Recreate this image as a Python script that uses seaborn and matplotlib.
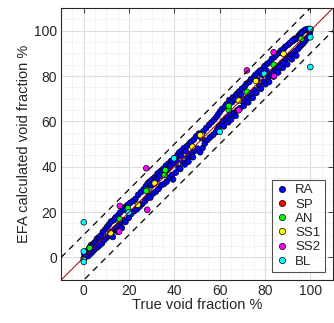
import numpy as np
import pandas as pd
import matplotlib
matplotlib.use("Agg")
import matplotlib.pyplot as plt
from matplotlib.ticker import MultipleLocator
import seaborn as sns

sns.set_theme(style="white")
plt.rcParams["font.family"] = ["Liberation Sans", "DejaVu Sans"]

categories = ["RA", "SP", "AN", "SS1", "SS2", "BL"]
colors = ["#0000ff", "#ff0000", "#00ff00", "#ffff00", "#ff00ff", "#00ffff"]

# True vs. EFA-calculated void fraction (%) per group
ra_true = [
    0, 0.3, 0.8, 1.5, 2, 2.5, 3, 3.2, 3.8, 4.2,
    4.5, 5, 5.3, 5.8, 6.2, 6.6, 7, 7.5, 8, 8.4,
    9, 9.5, 10, 10.4, 10.8, 11.2, 11.6, 12, 12.4, 12.8,
    13.2, 13.6, 14, 14.4, 14.8, 15.2, 15.6, 16, 16.4, 16.8,
    17.2, 17.6, 18, 18.4, 18.8, 19.2, 19.8, 20.4, 21, 21.6,
    22.2, 22.8, 23.4, 24, 24.6, 25.2, 25.8, 26.4, 27, 27.4,
    27.8, 28.2, 28.6, 29, 29.4, 29.8, 30.2, 30.6, 31, 31.4,
    31.8, 32.2, 32.6, 33, 33.4, 33.8, 34.2, 34.6, 35, 35.4,
    35.8, 36.2, 36.6, 37, 37.4, 37.8, 38.2, 38.6, 39, 39.4,
    39.8, 40.2, 40.6, 41, 41.4, 41.8, 42.2, 42.6, 43, 43.4,
    43.8, 44.2, 44.6, 45, 45.4, 45.8, 46.2, 46.6, 47, 47.4,
    47.8, 48.2, 48.6, 49, 49.6, 50.2, 50.8, 51.4, 52, 52.4,
    52.8, 53.4, 54, 54.6, 55.2, 55.8, 56.4, 57, 57.6, 58.2,
    58.6, 59, 59.4, 59.8, 60.2, 60.6, 61, 61.4, 61.8, 62.2,
    62.6, 63, 63.4, 63.8, 64.2, 64.6, 65, 65.4, 65.8, 66.2,
    66.6, 67, 67.4, 67.8, 68.2, 68.6, 69, 69.4, 69.8, 70.2,
    70.6, 71, 71.4, 71.8, 72.2, 72.6, 73, 73.4, 73.8, 74.2,
    74.6, 75, 75.4, 75.8, 76.2, 76.6, 77, 77.4, 77.8, 78.2,
    78.6, 79, 79.4, 79.8, 80.2, 80.6, 81, 81.4, 81.8, 82.2,
    82.6, 83, 83.4, 83.8, 84.2, 84.6, 85, 85.4, 85.8, 86.2,
    86.6, 87, 87.4, 87.8, 88.2, 88.6, 89, 89.4, 89.8, 90.2,
    90.6, 91, 91.4, 91.8, 92.2, 92.6, 93, 93.4, 93.8, 94.2,
    94.6, 95, 95.4, 95.8, 96.2, 96.6, 97, 97.4, 97.8, 98.2,
    98.6, 99, 99.4, 99.8, 100, 93.4, 92, 88, 86, 96,
]
ra_efa = [
    -0.5, 1.4, 0.2, 2.8, 0.6, 4.2, 1.6, 5.4, 2.4, 6,
    3.2, 6.8, 4, 8.2, 4.6, 8.8, 5.4, 9.6, 6.2, 11.2,
    7.6, 12.4, 8.6, 13.6, 9.4, 14.6, 10.2, 15.8, 11.4, 9,
    16.4, 12.4, 17.6, 13.2, 11.4, 18.6, 14.4, 19.8, 15.6, 13,
    20.8, 16.4, 22, 15.6, 21, 23, 17.4, 24, 19.2, 24.8,
    20.4, 25.8, 21.2, 27.6, 22.4, 28.8, 23.6, 30, 24.8, 31.4,
    26, 32.6, 27.2, 33.4, 26.4, 31.8, 34.4, 28.2, 32.6, 35.4,
    29, 34.4, 37, 30.2, 35.8, 38, 31.8, 37.2, 39, 32.4,
    37.8, 40.4, 33.4, 38.8, 41.4, 35.2, 40.4, 42.6, 36.4, 34.4,
    41.6, 43.8, 37.4, 42.6, 45.2, 39.6, 46.4, 39, 44.6, 47.2,
    41.8, 48.2, 41, 46.8, 49, 43.8, 42.2, 50.2, 44.8, 51,
    46, 44.2, 52, 47, 53.4, 48, 54.6, 46.4, 52.6, 48.2,
    55.6, 50.2, 57, 51.8, 58.4, 53, 59.6, 54, 60.8, 55.2,
    62, 56.6, 63.2, 58, 64.4, 58.8, 65.4, 60.2, 57.8, 66.4,
    61.2, 67.6, 62, 59.6, 69.4, 63.2, 60.8, 68.4, 70.6, 63.8,
    69.6, 62.4, 72, 65, 70.8, 73.2, 65.8, 71.8, 74.4, 68.8,
    66.8, 75.4, 69.8, 76.6, 70.6, 68.4, 77.4, 71.8, 78.6, 72.6,
    70.4, 79.4, 73.8, 80.6, 72.6, 78.4, 81.6, 75.8, 82.4, 74.4,
    80.6, 83, 77.6, 84.4, 76.4, 82.4, 85.4, 79.6, 77.4, 86.2,
    80.8, 87.6, 82, 79.8, 88.4, 82.8, 89.4, 84, 81.6, 90.2,
    84.8, 91.2, 85.8, 83.6, 92, 86.6, 93, 87.8, 85.2, 93.8,
    88.4, 94.6, 89.4, 87.4, 95.4, 90.2, 96.4, 91, 89, 97,
    92, 98, 93, 98.8, 93.8, 99.6, 94.6, 100.2, 95.6, 100.6,
    96.8, 100.8, 97.6, 99.2, 100.4, 96.2, 95.6, 85.6, 84, 99,
]
sp_true = []
sp_efa = []
an_true = [2.6, 15.9, 19.5, 28, 27.6, 35.7, 36, 64, 64, 72, 83.8, 96]
an_efa = [4.1, 16.9, 21.7, 29.8, 29.3, 36.3, 38.5, 65, 66.8, 73, 85, 96.4]
ss1_true = [11.8, 23.9, 31.3, 48, 52, 51.4, 68.4, 76, 88.2]
ss1_efa = [10.7, 23.2, 32.7, 48.8, 54, 53.9, 69.2, 77.8, 89.8]
ss2_true = [15.9, 15.6, 28, 27.6, 68.4, 72, 83.8, 84]
ss2_efa = [22.7, 11.4, 21, 39.3, 64.9, 82.5, 90.5, 80]
bl_true = [0, 0, 0, 0, 19.8, 39.8, 60, 79.7, 100, 100, 100]
bl_efa = [15.5, 2.6, -1, -2, 19.8, 43.7, 55.4, 81, 100.8, 97.1, 84]

frames = []
for name, xs, ys in [
    ("RA", ra_true, ra_efa), ("SP", sp_true, sp_efa), ("AN", an_true, an_efa),
    ("SS1", ss1_true, ss1_efa), ("SS2", ss2_true, ss2_efa), ("BL", bl_true, bl_efa),
]:
    frames.append(pd.DataFrame({"true": xs, "efa": ys, "group": name}))
df = pd.concat(frames, ignore_index=True)

fig = plt.figure(figsize=(3.34, 3.23), dpi=100)
ax = fig.add_axes([0.183, 0.133, 0.814, 0.842])

ink = "#262626"
lims = (-10, 110)

sns.scatterplot(
    data=df, x="true", y="efa", hue="group", hue_order=categories,
    palette=dict(zip(categories, colors)), s=17, edgecolor="black",
    linewidth=0.5, ax=ax, zorder=3, legend=False,
)

# Identity line and +/-10 % bounds
ref = np.array(lims)
ax.plot(ref, ref, color="#9a0000", lw=0.7, zorder=4)
ax.plot(ref, ref + 10, color="black", lw=0.9, ls=(0, (5, 4)), zorder=4)
ax.plot(ref, ref - 10, color="black", lw=0.9, ls=(0, (5, 4)), zorder=4)

ax.set_xlim(*lims)
ax.set_ylim(*lims)
ax.xaxis.set_major_locator(MultipleLocator(20))
ax.yaxis.set_major_locator(MultipleLocator(20))
ax.xaxis.set_minor_locator(MultipleLocator(5))
ax.yaxis.set_minor_locator(MultipleLocator(5))
ax.grid(which="major", color="#dedede", lw=0.8, ls="-", zorder=0)
ax.grid(which="minor", color="#d8d8d8", lw=0.6, ls=(0, (1, 2)), zorder=0)
ax.set_axisbelow(True)

ax.tick_params(which="major", direction="in", length=3.5, width=0.6, colors=ink,
               labelsize=10, top=True, right=True, pad=3)
ax.tick_params(which="minor", length=0)
for sp in ax.spines.values():
    sp.set_color(ink)
    sp.set_linewidth(0.8)

ax.set_xlabel("True void fraction %", fontsize=10.5, color=ink, labelpad=0)
ax.set_ylabel("EFA calculated void fraction %", fontsize=10.5, color=ink, labelpad=2)

handles = [
    plt.Line2D([], [], ls="", marker="o", markersize=4.5, markerfacecolor=c,
               markeredgecolor="black", markeredgewidth=0.5)
    for c in colors
]
leg = ax.legend(handles, categories, loc="lower right", bbox_to_anchor=(0.971, 0.029),
                borderaxespad=0, fontsize=9.5, frameon=True, fancybox=False,
                handlelength=0.8, handletextpad=0.6, labelspacing=0.15,
                borderpad=0.35, labelcolor=ink)
leg.get_frame().set_edgecolor(ink)
leg.get_frame().set_linewidth(0.8)
leg.set_zorder(5)

fig.savefig("out.png", dpi=100)
